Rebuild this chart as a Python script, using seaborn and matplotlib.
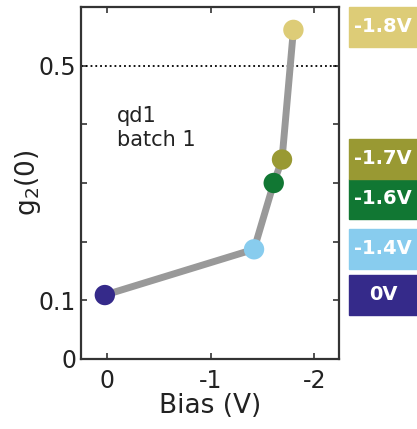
import matplotlib
matplotlib.use('Agg')
import pandas as pd
import matplotlib.pyplot as plt
import seaborn as sns
from matplotlib.patches import Rectangle

# data
bias = [0.02, -1.42, -1.61, -1.69, -1.80]
g2 = [0.109, 0.187, 0.300, 0.340, 0.561]
labels = ['0V', '-1.4V', '-1.6V', '-1.7V', '-1.8V']
colors = ['#352a8a', '#88ccee', '#117733', '#999933', '#ddcc77']

df = pd.DataFrame({'bias': bias, 'g2': g2, 'label': labels})

sns.set_style('ticks')
plt.rcParams['font.family'] = ['DejaVu Sans']

W, H = 417, 429
fig = plt.figure(figsize=(W / 100, H / 100), dpi=100)
ax = fig.add_axes([81 / W, 1 - 359 / H, (339 - 81) / W, (359 - 7) / H])

sns.lineplot(data=df, x='bias', y='g2', color='#999999', lw=5, ax=ax,
             sort=False, zorder=2)
sns.scatterplot(data=df, x='bias', y='g2', hue='label', palette=colors,
                s=215, edgecolor='none', legend=False, ax=ax, zorder=3)

ax.axhline(0.5, color='black', ls=':', lw=1.3, zorder=1)

ax.set_xlim(0.25, -2.24)
ax.set_ylim(0, 0.6)
ax.set_xticks([0, -1, -2])
ax.set_xticklabels(['0', '-1', '-2'])
ax.set_yticks([0, 0.1, 0.2, 0.3, 0.4, 0.5])
ax.set_yticklabels(['0', '0.1', '', '', '', '0.5'])
ax.tick_params(direction='in', length=4, width=1.2, colors='#333333',
               labelcolor='#222222', labelsize=17, top=True, right=True)
ax.tick_params(axis='x', pad=7)
for sp in ax.spines.values():
    sp.set_color('#333333')
    sp.set_linewidth(1.6)

ax.set_xlabel('Bias (V)', fontsize=19, color='#222222', labelpad=0)
ax.set_ylabel('g$_2$(0)', fontsize=19, color='#222222', labelpad=-3)

ax.text(0.14, 0.655, 'qd1\nbatch 1', transform=ax.transAxes, fontsize=15,
        color='#222222', va='center', ha='left', linespacing=1.25)

# colour keys on the right
box_tops = [275, 229, 179, 139, 7]
for lab, col, top in zip(labels, colors, box_tops):
    fig.patches.append(Rectangle((349 / W, 1 - (top + 40) / H), 68 / W, 40 / H,
                                 transform=fig.transFigure, color=col))
    fig.text((349 + 34) / W, 1 - (top + 20) / H, lab, color='white',
             fontsize=14, fontweight='bold', ha='center', va='center')

fig.savefig('out.png', dpi=100)
